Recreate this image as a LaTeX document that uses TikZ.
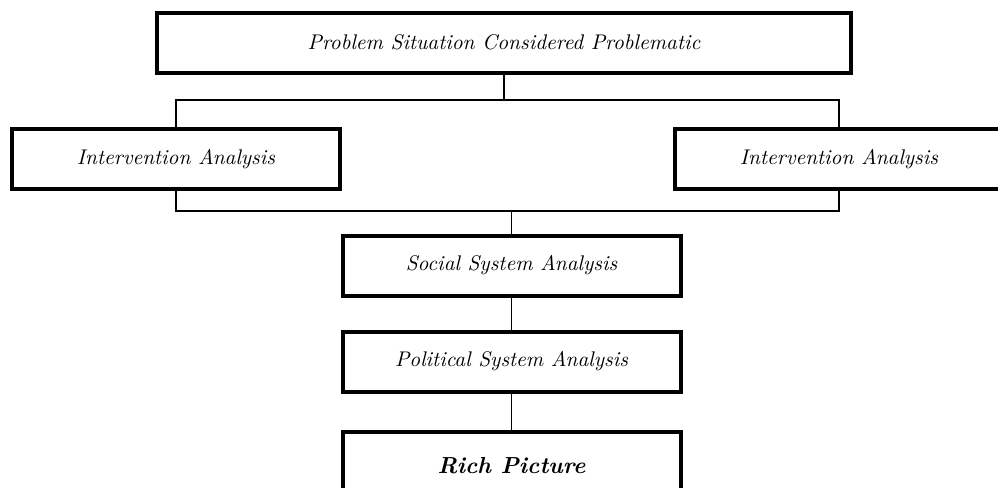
\documentclass[tikz,border=0pt]{standalone}
\usepackage{tikz}
\usetikzlibrary{positioning}

\begin{document}
\begin{tikzpicture}[x=0.5pt, y=-0.5pt,
    box/.style={draw, line width=2pt, rectangle, minimum width=#1, minimum height=30pt, inner sep=0pt, font=\fontsize{10.6}{12}\selectfont\itshape},
    link/.style={draw, line width=0.7pt}]
    \useasboundingbox (0,0) rectangle (998,488);
    \clip (0,0) rectangle (998,488);

    \node[box=347pt] (prob) at (504, 42.5)   {Problem Situation Considered Problematic};
    \node[box=164pt] (intL) at (176, 159)    {Intervention Analysis};
    \node[box=164pt] (intR) at (839, 159)    {Intervention Analysis};
    \node[box=169pt] (social) at (511.5, 265.5)    {Social System Analysis};
    \node[box=169pt] (political) at (511.5, 361.5) {Political System Analysis};
    \node[box=169pt, minimum height=34pt, font=\fontsize{11.6}{13}\selectfont\bfseries\itshape] (rich) at (511.5, 466) {Rich Picture};

    \coordinate (upbar) at (0, 100);
    \coordinate (lowbar) at (0, 211);

    \path[link]
    (prob) -- (prob |- upbar)
    (intL.north) -- (intL |- upbar) -- (intR |- upbar) -- (intR.north)
    (intL.south) -- (intL |- lowbar) -- (intR |- lowbar) -- (intR.south)
    (social |- lowbar) -- (social.north)
    (social) -- (political)
    (political) -- (rich);
    \end{tikzpicture}
\end{document}
